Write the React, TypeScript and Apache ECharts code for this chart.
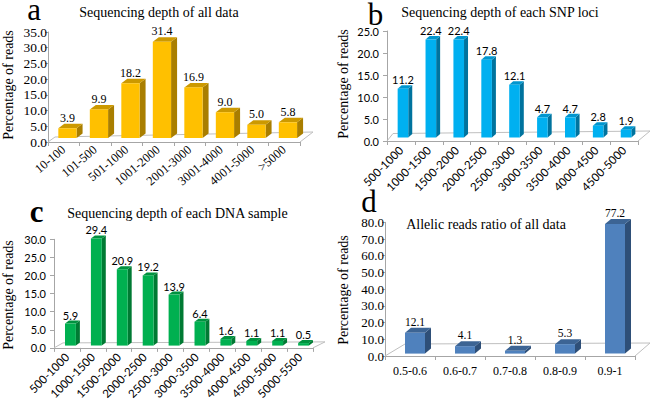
import React, { useEffect, useRef } from 'react';
import * as echarts from 'echarts';

const SERIF = 'Liberation Serif, serif';
const SANS = 'Lato, sans-serif';

// ---- data ----
const catsA = ['10-100', '101-500', '501-1000', '1001-2000', '2001-3000', '3001-4000', '4001-5000', '>5000'];
const valsA = [3.9, 9.9, 18.2, 31.4, 16.9, 9.0, 5.0, 5.8];

const catsB = ['500-1000', '1000-1500', '1500-2000', '2000-2500', '2500-3000', '3000-3500', '3500-4000', '4000-4500', '4500-5000'];
const valsB = [11.2, 22.4, 22.4, 17.8, 12.1, 4.7, 4.7, 2.8, 1.9];

const catsC = ['500-1000', '1000-1500', '1500-2000', '2000-2500', '2500-3000', '3000-3500', '3500-4000', '4000-4500', '4500-5000', '5000-5500'];
const valsC = [5.9, 29.4, 20.9, 19.2, 13.9, 6.4, 1.6, 1.1, 1.1, 0.5];

const catsD = ['0.5-0.6', '0.6-0.7', '0.7-0.8', '0.8-0.9', '0.9-1'];
const valsD = [12.1, 4.1, 1.3, 5.3, 77.2];

const titles = ['Sequencing depth of all data', 'Sequencing depth of each SNP loci', 'Sequencing depth of each DNA sample', 'Allelic reads ratio of all data'];
const letters = ['a', 'b', 'c', 'd'];
const yName = 'Percentage of reads';

// ---- panel styling ----
const panels = [
  {
    cats: catsA, vals: valsA, max: 35, step: 5,
    grid: { left: 48, top: 32, width: 252, height: 110 },
    tickFont: SERIF, tickSize: 13.5, catFont: SERIF, catSize: 12.5, catRotate: 40, labelFont: SERIF, labelSize: 12,
    wFrac: 0.58, xOff: 3.7, bOff: -4, tOff: -1.5, depth: [6, -4.5], floorL: [7, -5], floorR: [13, -10],
    colors: ['#FFC000', '#CC9900', '#A97E00'], yTickLen: 3, yLabelMargin: 1, xLabelMargin: 6,
    title: { x: 159, y: 12 }, letter: { x: 34, y: 9.5, bold: false }, yname: { x: 8, y: 85 },
  },
  {
    cats: catsB, vals: valsB, max: 25, step: 5,
    grid: { left: 387, top: 31, width: 251, height: 110 },
    tickFont: SANS, tickSize: 11, catFont: SANS, catSize: 11.5, catRotate: 45, labelFont: SANS, labelSize: 11,
    wFrac: 0.38, xOff: 2, bOff: -3.5, tOff: -3, depth: [4, -3.5], floorL: [6, -7.5], floorR: [12, -10],
    colors: ['#00B0F0', '#0096CF', '#00739E'], yTickLen: 4, yLabelMargin: 8, xLabelMargin: 7,
    title: { x: 500, y: 12.5 }, letter: { x: 375.5, y: 14.5, bold: false }, yname: { x: 343, y: 84 },
  },
  {
    cats: catsC, vals: valsC, max: 30, step: 5,
    grid: { left: 54, top: 239.3, width: 259, height: 114 },
    tickFont: SANS, tickSize: 11, catFont: SANS, catSize: 11.5, catRotate: 45, labelFont: SANS, labelSize: 11,
    wFrac: 0.42, xOff: 3.5, bOff: -2.3, tOff: -3, depth: [4, -3], floorL: [9, -5], floorR: [12, -6],
    colors: ['#00B050', '#00923F', '#007A33'], yTickLen: 4, yLabelMargin: 8, xLabelMargin: 7,
    title: { x: 177.5, y: 213.5 }, letter: { x: 36.5, y: 211.5, bold: true }, yname: { x: 8, y: 295 },
  },
  {
    cats: catsD, vals: valsD, max: 80, step: 10,
    grid: { left: 385, top: 222.3, width: 250, height: 133.7 },
    tickFont: SERIF, tickSize: 13, catFont: SERIF, catSize: 12, catRotate: 0, labelFont: SERIF, labelSize: 11.5,
    wFrac: 0.4, xOff: 5, bOff: -2.4, tOff: -3, depth: [6, -5], floorL: [20, -12], floorR: [15, -13],
    colors: ['#4F81BD', '#3C6494', '#2E4F78'], yTickLen: 3, yLabelMargin: 1, xLabelMargin: 9,
    title: { x: 486, y: 224.5 }, letter: { x: 369, y: 201.5, bold: false }, yname: { x: 343, y: 290 },
  },
];

function barRenderer(p: any) {
  return (params: any, api: any) => {
    const i = api.value(0);
    const v = api.value(1);
    const base = api.coord([i, 0]);
    const tp = api.coord([i, v]);
    const band = api.size([1, 0])[0];
    const w = band * p.wFrac;
    const cx = base[0] + p.xOff;
    const x0 = cx - w / 2;
    const x1 = cx + w / 2;
    const yb = base[1] + p.bOff;
    const yt = Math.min(tp[1] + p.tOff, yb - 1);
    const dx = p.depth[0];
    const dy = p.depth[1];
    return {
      type: 'group',
      children: [
        { type: 'polygon', shape: { points: [[x1, yb], [x1 + dx, yb + dy], [x1 + dx, yt + dy], [x1, yt]] }, style: { fill: p.colors[2] } },
        { type: 'polygon', shape: { points: [[x0, yt], [x1, yt], [x1 + dx, yt + dy], [x0 + dx, yt + dy]] }, style: { fill: p.colors[1] } },
        { type: 'rect', shape: { x: x0, y: yt, width: w, height: yb - yt }, style: { fill: p.colors[0] } },
        {
          type: 'text',
          style: {
            text: v.toFixed(1), x: cx, y: yt + dy, align: 'center', verticalAlign: 'bottom',
            fontSize: p.labelSize, fontFamily: p.labelFont, fill: '#000',
          },
        },
      ],
    };
  };
}

function floorRenderer(p: any) {
  return (params: any, api: any) => {
    const n = p.cats.length;
    const c0 = api.coord([0, 0]);
    const band = api.size([1, 0])[0];
    const xl = c0[0] - band / 2;
    const xr = c0[0] + (n - 0.5) * band;
    const y = c0[1];
    return {
      type: 'polyline',
      shape: { points: [[xl, y], [xl + p.floorL[0], y + p.floorL[1]], [xr + p.floorR[0], y + p.floorR[1]], [xr, y]] },
      style: { stroke: '#BFBFBF', lineWidth: 1, fill: 'none' },
    };
  };
}

export default function App() {
  const ref = useRef<HTMLDivElement>(null);
  useEffect(() => {
    if (!ref.current) return;
    const chart = echarts.init(ref.current, undefined, { renderer: 'svg' });
    const grid: any[] = [];
    const xAxis: any[] = [];
    const yAxis: any[] = [];
    const series: any[] = [];
    const graphic: any[] = [];
    panels.forEach((p, k) => {
      grid.push({ ...p.grid, containLabel: false });
      xAxis.push({
        type: 'category', gridIndex: k, data: p.cats, boundaryGap: true,
        axisLine: { show: true, lineStyle: { color: '#A6A6A6', width: 1 } },
        axisTick: { show: true, length: 4, interval: 0, lineStyle: { color: '#A6A6A6' } },
        axisLabel: {
          interval: 0, rotate: p.catRotate, margin: p.xLabelMargin, color: '#000',
          fontSize: p.catSize, fontFamily: p.catFont,
        },
        splitLine: { show: false },
      });
      yAxis.push({
        type: 'value', gridIndex: k, min: 0, max: p.max, interval: p.step,
        axisLine: { show: true, lineStyle: { color: '#A6A6A6', width: 1 } },
        axisTick: { show: true, length: p.yTickLen, lineStyle: { color: '#A6A6A6' } },
        axisLabel: {
          margin: p.yLabelMargin, color: '#000', fontSize: p.tickSize, fontFamily: p.tickFont,
          formatter: (v: number) => v.toFixed(1),
        },
        splitLine: { show: false },
      });
      series.push({
        type: 'custom', xAxisIndex: k, yAxisIndex: k, z: 1, silent: true,
        data: [[0, 0]], renderItem: floorRenderer(p),
      });
      series.push({
        type: 'custom', xAxisIndex: k, yAxisIndex: k, z: 2, silent: true,
        data: p.vals.map((v, i) => [i, v]), renderItem: barRenderer(p),
      });
      graphic.push({
        type: 'text', x: p.title.x, y: p.title.y,
        style: { text: titles[k], align: 'center', verticalAlign: 'middle', fontSize: 14, fontFamily: SERIF, fill: '#000' },
      });
      graphic.push({
        type: 'text', x: p.letter.x, y: p.letter.y,
        style: {
          text: letters[k], align: 'center', verticalAlign: 'middle', fontSize: 31,
          fontWeight: p.letter.bold ? 'bold' : 'normal', fontFamily: SERIF, fill: '#000',
        },
      });
      graphic.push({
        type: 'text', x: p.yname.x, y: p.yname.y, rotation: Math.PI / 2,
        style: { text: yName, align: 'center', verticalAlign: 'middle', fontSize: 14, fontFamily: SERIF, fill: '#000' },
      });
    });
    chart.setOption({
      animation: false,
      backgroundColor: '#fff',
      grid, xAxis, yAxis, series, graphic,
    });
    return () => chart.dispose();
  }, []);
  return <div ref={ref} style={{ position: 'fixed', left: 0, top: 0, width: 654, height: 402 }} />;
}
